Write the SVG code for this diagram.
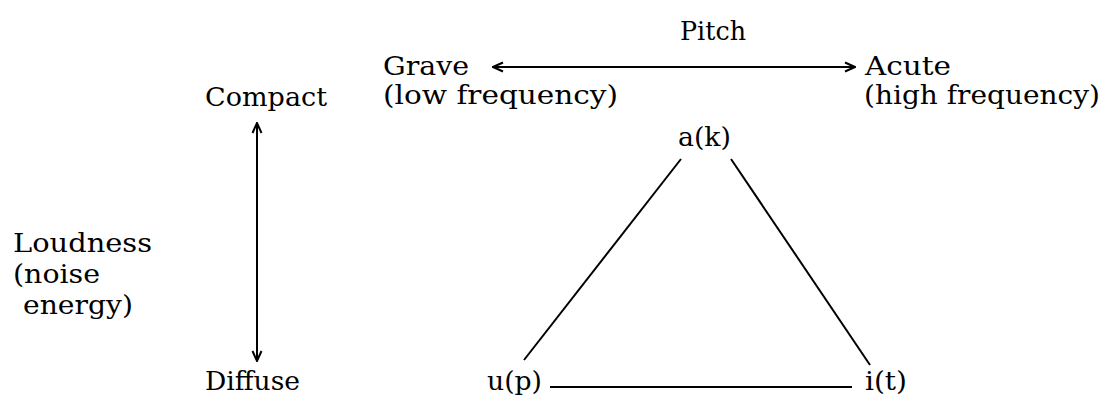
<svg xmlns="http://www.w3.org/2000/svg" width="1104" height="400" viewBox="0 0 1104 400">
<defs>
<style>
text{font-family:"DejaVu Serif","Liberation Serif",serif;font-size:26px;fill:#000}
.ln{stroke:#000;stroke-width:2;fill:none}
</style>
<marker id="ah" viewBox="0 0 12 12" refX="11" refY="6" markerWidth="12" markerHeight="12" markerUnits="userSpaceOnUse" orient="auto-start-reverse">
<path d="M1,1.5 L11,6 L1,10.5" fill="none" stroke="#000" stroke-width="2"/>
</marker>
</defs>
<rect width="1104" height="400" fill="#fff"/>
<g id="pitch"><text x="680" y="40" textLength="66" lengthAdjust="spacingAndGlyphs">Pitch</text></g>
<g id="grave"><text x="383" y="75" textLength="86" lengthAdjust="spacingAndGlyphs">Grave</text><text x="383" y="104" textLength="235" lengthAdjust="spacingAndGlyphs">(low frequency)</text></g>
<g id="acute"><text x="865" y="75" textLength="86" lengthAdjust="spacingAndGlyphs">Acute</text><text x="864" y="104" textLength="236" lengthAdjust="spacingAndGlyphs">(high frequency)</text></g>
<g id="compact"><text x="205" y="106" textLength="122" lengthAdjust="spacingAndGlyphs">Compact</text></g>
<g id="loudness"><text x="13" y="252" textLength="139" lengthAdjust="spacingAndGlyphs">Loudness</text><text x="13" y="283" textLength="87" lengthAdjust="spacingAndGlyphs">(noise</text><text x="23" y="314" textLength="110" lengthAdjust="spacingAndGlyphs">energy)</text></g>
<g id="diffuse"><text x="205" y="390" textLength="95" lengthAdjust="spacingAndGlyphs">Diffuse</text></g>
<g id="ak"><text x="678" y="146" textLength="53" lengthAdjust="spacingAndGlyphs">a(k)</text></g>
<g id="up"><text x="487" y="390" textLength="55" lengthAdjust="spacingAndGlyphs">u(p)</text></g>
<g id="it"><text x="865" y="390" textLength="42" lengthAdjust="spacingAndGlyphs">i(t)</text></g>
<g id="connectors">
<line class="ln" x1="493" y1="67" x2="855" y2="67" marker-start="url(#ah)" marker-end="url(#ah)"/>
<line class="ln" x1="257" y1="123" x2="257" y2="361" marker-start="url(#ah)" marker-end="url(#ah)"/>
<line class="ln" x1="681" y1="159" x2="524" y2="360"/>
<line class="ln" x1="731" y1="159" x2="870" y2="365"/>
<line class="ln" x1="550" y1="387" x2="852" y2="387"/>
</g>
</svg>
